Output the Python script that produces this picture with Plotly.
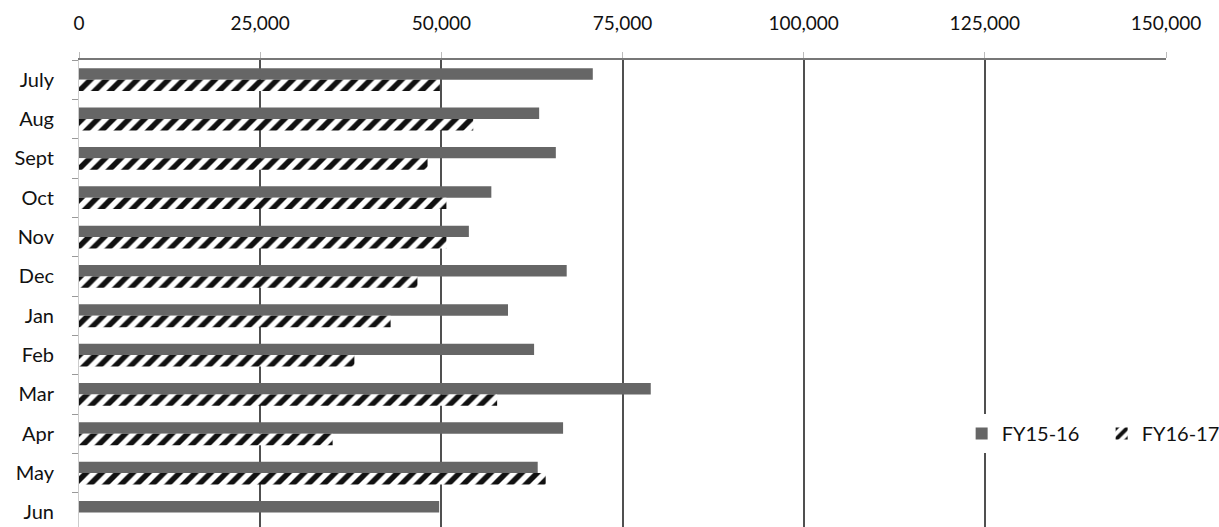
import plotly.graph_objects as go

months = ["July", "Aug", "Sept", "Oct", "Nov", "Dec", "Jan", "Feb", "Mar", "Apr", "May", "Jun"]
fy15_16 = [70900, 63500, 65800, 56900, 53800, 67300, 59200, 62800, 78900, 66800, 63300, 49700]
fy16_17 = [49800, 54400, 48100, 50700, 50700, 46700, 43000, 38000, 57700, 35000, 64400, None]
x_ticks = [0, 25000, 50000, 75000, 100000, 125000, 150000]
x_tick_labels = ["0", "25,000", "50,000", "75,000", "100,000", "125,000", "150,000"]

FONT = "Lato, 'Open Sans', sans-serif"

fig = go.Figure()
fig.add_trace(go.Bar(
    y=months, x=fy15_16, orientation="h", name="FY15-16",
    marker=dict(color="#666666", line=dict(width=0)),
))
fig.add_trace(go.Bar(
    y=months, x=fy16_17, orientation="h", name="FY16-17",
    marker=dict(color="white", line=dict(width=0),
                pattern=dict(shape="/", fgcolor="#111111", bgcolor="white",
                             fgopacity=1, fillmode="replace",
                             size=11, solidity=0.5)),
))

fig.update_layout(
    width=1219, height=527,
    margin=dict(l=79, r=53, t=60, b=0, autoexpand=False),
    paper_bgcolor="white", plot_bgcolor="white",
    barmode="group", bargap=0.42, bargroupgap=0,
    font=dict(family=FONT, size=20, color="#111111"),
    showlegend=True,
    legend=dict(orientation="h", x=0.812, y=0.20, xanchor="left", yanchor="middle",
                font=dict(size=20, color="#111111"), traceorder="normal",
                itemwidth=30, bgcolor="white", entrywidth=95, entrywidthmode="pixels"),
    xaxis=dict(
        side="top", range=[0, 150000], tickvals=x_ticks, ticktext=x_tick_labels,
        showgrid=True, gridcolor="#505050", gridwidth=1.5,
        zeroline=False, showline=True, linecolor="#777777", linewidth=1.5,
        ticks="outside", ticklen=6, tickcolor="#bbbbbb",
        ticklabelstandoff=15, tickfont=dict(size=19),
    ),
    yaxis=dict(
        type="category", categoryorder="array", categoryarray=months,
        range=[11.37, -0.5], showgrid=False, zeroline=False,
        showline=True, linecolor="#cccccc", linewidth=1,
        ticks="outside", ticklen=6, tickcolor="#999999", tickson="boundaries",
        ticklabelstandoff=20, tickfont=dict(size=20),
    ),
)

fig.write_html("out.html")
